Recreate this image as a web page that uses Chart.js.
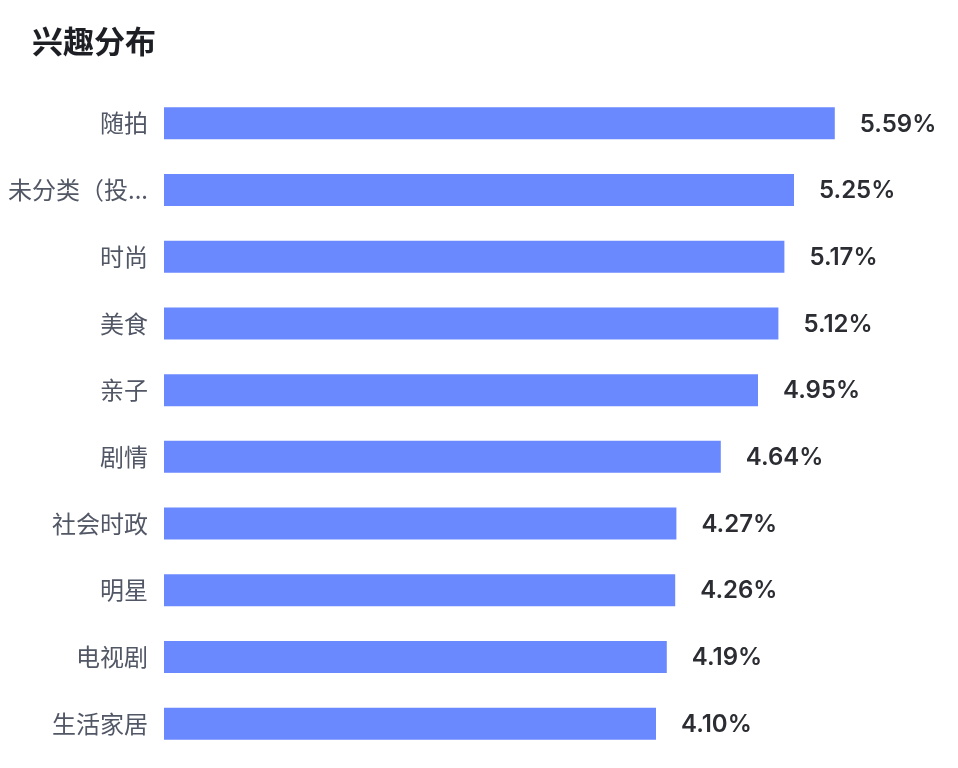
<!DOCTYPE html>
<html>
<head>
<meta charset="utf-8">
<script src="https://cdn.jsdelivr.net/npm/chart.js@4/dist/chart.umd.min.js"></script>
<style>
  body { margin: 0; background: #fff; }
  #wrap { position: relative; width: 958px; height: 768px; }
  #titre {
    position: absolute; left: 32px; top: 17px;
    font: bold 31px "Noto Sans CJK SC", sans-serif; color: #1d1f24;
  }
</style>
</head>
<body>
<div id="wrap">
  <div id="titre">兴趣分布</div>
  <canvas id="interet-chart"></canvas>
</div>
<script>
// Catégories et valeurs (%)
const categories = ["随拍", "未分类（投...", "时尚", "美食", "亲子", "剧情", "社会时政", "明星", "电视剧", "生活家居"];
const valeurs = [5.59, 5.25, 5.17, 5.12, 4.95, 4.64, 4.27, 4.26, 4.19, 4.10];

// Étiquettes de valeur à droite des barres
const etiquettesValeurs = {
    id: "etiquettesValeurs",
    afterDatasetsDraw(chart) {
        const ctx = chart.ctx;
        const meta = chart.getDatasetMeta(0);
        ctx.save();
        ctx.font = '600 24px Inter, "Noto Sans CJK SC", sans-serif';
        ctx.fillStyle = "#2b2d33";
        ctx.textAlign = "left";
        ctx.textBaseline = "middle";
        meta.data.forEach((bar, i) => {
            ctx.fillText(valeurs[i].toFixed(2) + "%", bar.x + 25, bar.y + 1);
        });
        ctx.restore();
    }
};

const ctx = document.getElementById("interet-chart").getContext("2d");
new Chart(ctx, {
    type: "bar",
    data: {
        labels: categories,
        datasets: [{
            data: valeurs,
            backgroundColor: "#6b89ff",
            borderWidth: 0,
            barPercentage: 0.8,
            categoryPercentage: 0.6
        }]
    },
    options: {
        indexAxis: "y",
        responsive: true,
        maintainAspectRatio: false,
        animation: false,
        layout: {
            padding: { top: 90, bottom: 11, left: 0, right: 14 }
        },
        plugins: {
            legend: { display: false },
            tooltip: { enabled: false }
        },
        scales: {
            x: {
                display: false,
                min: 0,
                max: 6.5
            },
            y: {
                grid: { display: false, drawTicks: false },
                border: { display: false },
                afterFit(scale) {
                    scale.width = 164;
                    scale.paddingTop = 0;
                    scale.paddingBottom = 0;
                },
                ticks: {
                    padding: 16,
                    color: "#525766",
                    font: { family: "Noto Sans CJK SC", size: 24 }
                }
            }
        }
    },
    plugins: [etiquettesValeurs]
});
</script>
</body>
</html>
